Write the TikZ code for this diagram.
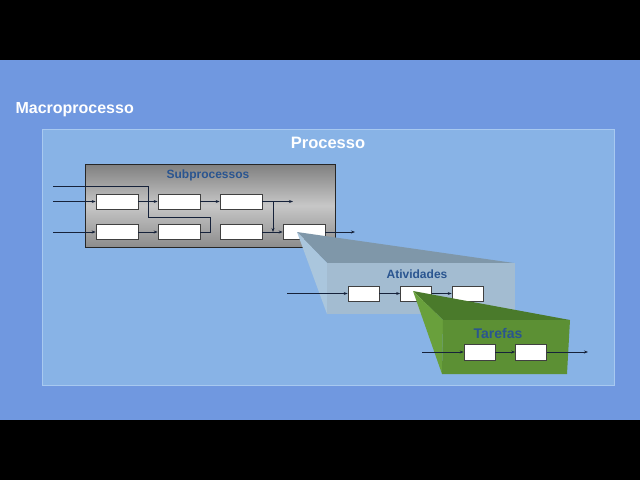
\documentclass[tikz,border=0pt]{standalone}
\usepackage{fontspec}
\setmainfont{Liberation Sans}
\usetikzlibrary{arrows.meta,positioning}

\definecolor{macroblue}{HTML}{7098E0}
\definecolor{procblue}{HTML}{88B3E6}
\definecolor{procedge}{HTML}{A8C9F0}
\definecolor{titleblue}{HTML}{2A5590}
\definecolor{linecol}{HTML}{16223A}
\definecolor{atvtop}{HTML}{7F97A9}
\definecolor{atvside}{HTML}{AAC6DD}
\definecolor{atvfront}{HTML}{A3BCD1}
\definecolor{tartop}{HTML}{4A7A2B}
\definecolor{tarside}{HTML}{69A03C}
\definecolor{tarfront}{HTML}{5C9034}

\begin{document}
\begin{tikzpicture}[x=1pt,y=-1pt,
    box/.style={draw=black!75,fill=white,line width=0.7pt,inner sep=0pt,
      minimum width=42pt,minimum height=15pt},
    smallbox/.style={box,minimum width=31pt},
    flow/.style={-{Stealth[length=4pt,width=3pt]},draw=linecol,line width=0.8pt},
    title/.style={font=\bfseries\fontsize{12}{14}\selectfont,text=titleblue}]
  \useasboundingbox (0,0) rectangle (640,480);
  \fill[black] (0,0) rectangle (640,480);
  \fill[macroblue] (0,60) rectangle (640,420);
  \node[font=\bfseries\fontsize{16}{19}\selectfont,text=white,anchor=west] (macro) at (12,110) {Macroprocesso};

  % processo
  \draw[fill=procblue,draw=procedge,line width=1pt] (42,129) rectangle (614,385);
  \node[font=\bfseries\fontsize{16.5}{19}\selectfont,text=white] (proc) at (328,143) {Processo};

  % subprocessos
  \shade[top color=black!50,bottom color=black!45,middle color=black!22]
    (85,164) rectangle (335,247);
  \draw[black!85,line width=0.8pt] (85,164) rectangle (335,247);
  \node[title] (sub) at (208,175) {Subprocessos};
  \node[box] (b11) at (117,201.5) {};
  \node[box] (b12) at (179,201.5) {};
  \node[box] (b13) at (241,201.5) {};
  \node[box] (b21) at (117,232) {};
  \node[box] (b22) at (179,232) {};
  \node[box] (b23) at (241,232) {};
  \node[box] (b24) at (304,232) {};
  \coordinate (in0) at (53,186);
  \coordinate (in1) at (53,201.5);
  \coordinate (in2) at (53,232);
  \coordinate (out1) at (293,201.5);
  \coordinate (out2) at (355,232);
  \coordinate (j1) at (273,201.5);
  \draw[flow] (in1) -- (b11);
  \draw[flow] (b11) -- (b12);
  \draw[flow] (b12) -- (b13);
  \draw[flow] (b13) -- (out1);
  \draw[flow] (j1) -- (j1 |- b24.west);
  \draw[flow] (in2) -- (b21);
  \draw[flow] (b21) -- (b22);
  \draw[flow] (b23) -- (b24);
  \draw[flow] (b24) -- (out2);
  \draw[linecol,line width=0.8pt] (b22.east) -- ++(10,0) |- (148,217) |- (in0);

  % atividades
  \fill[atvtop] (297,232) -- (514,263) -- (327,263) -- cycle;
  \fill[atvside] (297,232) -- (327,263) -- (327,314) -- cycle;
  \fill[atvfront] (327,263) rectangle (515,314);
  \node[title] (atv) at (417,274) {Atividades};
  \node[smallbox] (a1) at (363.5,293.5) {};
  \node[smallbox] (a2) at (416,293.5) {};
  \node[smallbox] (a3) at (467.5,293.5) {};
  \coordinate (in3) at (287,293.5);
  \draw[flow] (in3) -- (a1);
  \draw[flow] (a1) -- (a2);
  \draw[flow] (a2) -- (a3);

  % tarefas
  \fill[tartop] (413,291) -- (570,320) -- (443,320) -- cycle;
  \fill[tarside] (413,291) -- (443,320) -- (442,374) -- cycle;
  \fill[tarfront] (443,320) -- (570,320) -- (567,374) -- (442,374) -- cycle;
  \node[title,font=\bfseries\fontsize{14}{16}\selectfont] (tar) at (498,333) {Tarefas};
  \node[smallbox,minimum height=16pt] (t1) at (479.5,352) {};
  \node[smallbox,minimum height=16pt] (t2) at (531,352) {};
  \coordinate (in4) at (422,352);
  \coordinate (out4) at (588,352);
  \draw[flow] (in4) -- (t1);
  \draw[flow] (t1) -- (t2);
  \draw[flow] (t2) -- (out4);
\end{tikzpicture}
\end{document}
